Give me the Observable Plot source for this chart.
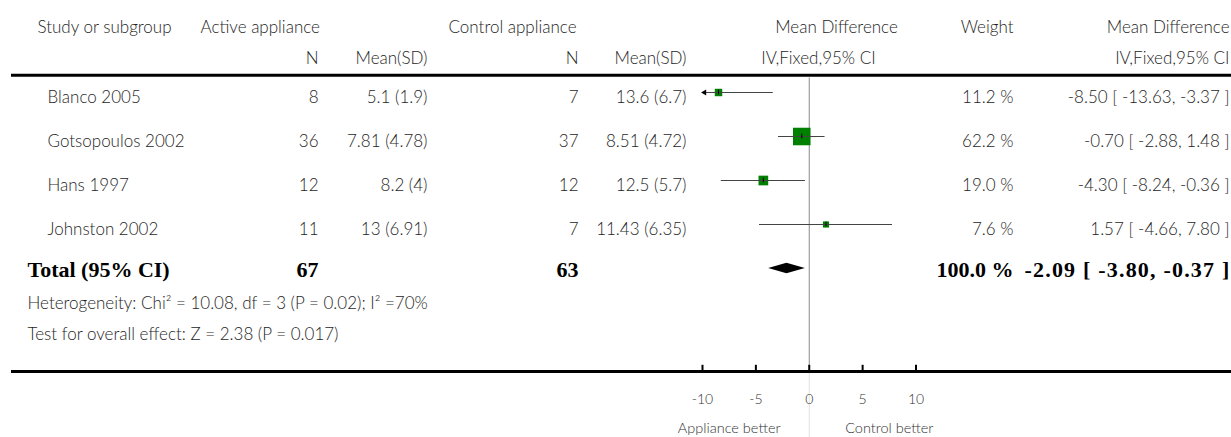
<!DOCTYPE html>
<html>
<head>
<meta charset="utf-8">
<script src="https://cdn.jsdelivr.net/npm/d3@7"></script>
<script src="https://cdn.jsdelivr.net/npm/@observablehq/plot@0.6"></script>
<style>
  body { margin: 0; background: #fff; }
  #chart svg { display: block; }
</style>
</head>
<body>
<div id="chart"></div>
<script>
// Forest plot: active vs control appliance, mean difference (IV, fixed, 95% CI)
const studies = ["Blanco 2005", "Gotsopoulos 2002", "Hans 1997", "Johnston 2002"];
const activeN = [8, 36, 12, 11];
const activeMean = [5.1, 7.81, 8.2, 13];
const activeSD = [1.9, 4.78, 4, 6.91];
const controlN = [7, 37, 12, 7];
const controlMean = [13.6, 8.51, 12.5, 11.43];
const controlSD = [6.7, 4.72, 5.7, 6.35];
const meanDiff = [-8.50, -0.70, -4.30, 1.57];
const ciLow = [-13.63, -2.88, -8.24, -4.66];
const ciHigh = [-3.37, 1.48, -0.36, 7.80];
const weights = [11.2, 62.2, 19.0, 7.6];

const totalLabel = "Total (95% CI)";
const totalN = [67, 63];
const totalWeight = 100.0;
const totalEffect = [-2.09, -3.80, -0.37]; // estimate, lower, upper

const xTicks = [-10, -5, 0, 5, 10];
const favourLabels = ["Appliance better", "Control better"];
const heterogeneityText = "Heterogeneity: Chi² = 10.08, df = 3 (P = 0.02); I² =70%";
const overallText = "Test for overall effect: Z = 2.38 (P = 0.017)";

// Table rows built from the arrays above
const rows = studies.map((s, i) => ({
  row: i, study: s,
  aN: activeN[i], aMS: `${activeMean[i]} (${activeSD[i]})`,
  cN: controlN[i], cMS: `${controlMean[i]} (${controlSD[i]})`,
  md: meanDiff[i], lo: ciLow[i], hi: ciHigh[i], w: weights[i]
}));
const totalRow = studies.length;
const xMin = d3.min(xTicks), xMax = d3.max(xTicks);
const fmt2 = v => v.toFixed(2);
const ciText = (m, l, h) => `${fmt2(m)} [ ${fmt2(l)}, ${fmt2(h)} ]`;
const totalCiText = ciText(...totalEffect);

// Layout (pixels for columns, row units for vertical placement)
const W = 1231, H = 437, ML = 11;
const col = {
  studyHead: 37, study: 47, total: 27, foot: 27,
  activeHead: 200, aN: 318, aMS: 427,
  controlHead: 448, cN: 578, cMS: 686,
  mdHead1: 836, mdHead2: 818,
  weight: 1013, ci: 1229
};
const dx = px => px - ML;
const rowY = {head1: -1.48, head2: -0.77, topRule: -0.39, het: 4.8, test: 5.5,
              axis: 6.34, tickTop: 6.2, tickLab: 6.98, favour: 7.64, bottom: 7.95};
const rowTextDy = 5; // table text sits slightly below the CI lines

const serifBold = {fontFamily: "Liberation Serif, serif", fontWeight: "bold", fontSize: 22, fill: "#000"};

const hd = (text, y, px, anchor) =>
  Plot.text([text], {frameAnchor: "left", y: () => y, dx: dx(px), textAnchor: anchor});
const col_ = (key, px, anchor = "end") =>
  Plot.text(rows, {frameAnchor: "left", y: "row", text: key, dx: dx(px), dy: rowTextDy, textAnchor: anchor});
const tot = (text, px, anchor = "end") =>
  Plot.text([text], {frameAnchor: "left", y: () => totalRow, dx: dx(px), dy: 1, textAnchor: anchor, ...serifBold});

const diamond = [
  {x: totalEffect[1], y1: totalRow, y2: totalRow},
  {x: totalEffect[0], y1: totalRow - 0.12, y2: totalRow + 0.12},
  {x: totalEffect[2], y1: totalRow, y2: totalRow}
];

const chart = Plot.plot({
  width: W, height: H,
  marginLeft: ML, marginRight: 0, marginTop: 0, marginBottom: 0,
  style: {fontFamily: "Lato, sans-serif", fontSize: "17px", fontWeight: 300, color: "#1e1e1e", background: "#fff"},
  x: {domain: [xMin, xMax], range: [702, 915.5], axis: null},
  y: {domain: [0, totalRow], range: [92, 268], axis: null},
  r: {type: "sqrt", domain: [0, d3.max(weights)], range: [0, 9.9]},
  marks: [
    // headers
    hd("Study or subgroup", rowY.head1, col.studyHead, "start"),
    hd("Active appliance", rowY.head1, col.activeHead, "start"),
    hd("Control appliance", rowY.head1, col.controlHead, "start"),
    hd("Mean Difference", rowY.head1, col.mdHead1, "middle"),
    hd("Weight", rowY.head1, col.weight, "end"),
    hd("Mean Difference", rowY.head1, col.ci, "end"),
    hd("N", rowY.head2, col.aN, "end"),
    hd("Mean(SD)", rowY.head2, col.aMS, "end"),
    hd("N", rowY.head2, col.cN, "end"),
    hd("Mean(SD)", rowY.head2, col.cMS, "end"),
    hd("IV,Fixed,95% CI", rowY.head2, col.mdHead2, "middle"),
    hd("IV,Fixed,95% CI", rowY.head2, col.ci, "end"),
    Plot.ruleY([rowY.topRule], {stroke: "#000", strokeWidth: 3}),

    // study rows
    col_("study", col.study, "start"),
    col_("aN", col.aN),
    col_("aMS", col.aMS),
    col_("cN", col.cN),
    col_("cMS", col.cMS),
    col_(d => `${d.w.toFixed(1)} %`, col.weight),
    col_(d => ciText(d.md, d.lo, d.hi), col.ci),

    // zero line
    Plot.ruleX([0], {y1: () => rowY.topRule + 0.06, y2: () => rowY.axis, stroke: "#8a8a8a"}),
    Plot.ruleX([0], {y1: () => rowY.axis, y2: () => rowY.bottom, stroke: "#e2e2e2"}),

    // study estimates
    Plot.dot(rows, {x: "md", y: "row", r: "w", symbol: "square", fill: "#008000"}),
    Plot.ruleY(rows, {y: "row", x1: d => Math.max(d.lo, xMin), x2: d => Math.min(d.hi, xMax), stroke: "#444", strokeWidth: 1.2}),
    Plot.ruleX(rows, {x: "md", y1: d => d.row - 0.055, y2: d => d.row + 0.055, stroke: "#000"}),
    Plot.dot(rows.filter(d => d.lo < xMin), {x: () => xMin, y: "row", symbol: "triangle", rotate: -90, r: 2.2, dx: 2, fill: "#000", stroke: "none"}),
    Plot.dot(rows.filter(d => d.hi > xMax), {x: () => xMax, y: "row", symbol: "triangle", rotate: 90, r: 2.2, dx: -2, fill: "#000", stroke: "none"}),

    // pooled estimate
    Plot.areaY(diamond, {x: "x", y1: "y1", y2: "y2", fill: "#000"}),
    tot(totalLabel, col.total, "start"),
    tot(totalN[0], col.aN),
    tot(totalN[1], col.cN),
    tot(`${totalWeight.toFixed(1)} %`, col.weight),
    tot(totalCiText, col.ci + 1),

    // footnotes
    hd(heterogeneityText, rowY.het, col.foot, "start"),
    hd(overallText, rowY.test, col.foot, "start"),

    // axis
    Plot.ruleY([rowY.axis], {stroke: "#000", strokeWidth: 3}),
    Plot.ruleX(xTicks, {x: d => d, y1: () => rowY.tickTop, y2: () => rowY.axis, stroke: "#000", strokeWidth: 2}),
    Plot.text(xTicks, {x: d => d, y: () => rowY.tickLab, text: d => String(d), fontSize: 14, fill: "#333"}),
    Plot.text(favourLabels, {x: (d, i) => (i === 0 ? -7.5 : 7.5), y: () => rowY.favour, text: d => d, fontSize: 14.5, fill: "#333"})
  ]
});

// the pooled CI label is set with slightly looser tracking
d3.select(chart).selectAll("text")
  .filter(function () { return this.textContent === totalCiText; })
  .attr("letter-spacing", 1.2);

document.getElementById("chart").append(chart);
</script>
</body>
</html>
